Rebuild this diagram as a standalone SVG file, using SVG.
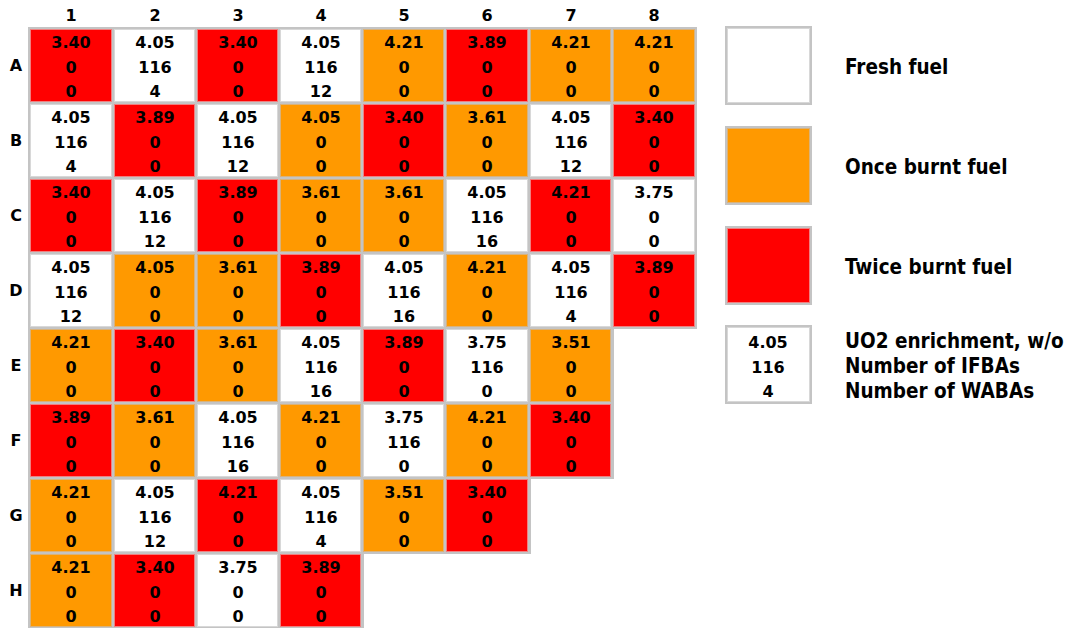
<svg xmlns="http://www.w3.org/2000/svg" width="1078" height="628" viewBox="0 0 1078 628">
<style>
.b{fill:#c4c4c4}
.W{fill:#ffffff;stroke:#d8d8d8;stroke-width:1}
.O{fill:#ff9900;stroke:#d9b27a;stroke-width:1}
.R{fill:#ff0000;stroke:#f08080;stroke-width:1}
text{font-family:"DejaVu Sans",Verdana,sans-serif;font-weight:bold;font-size:16px;fill:#000;text-anchor:middle}
.lg{font-family:"DejaVu Sans Condensed","Liberation Sans",sans-serif;font-size:20.5px;text-anchor:start;font-stretch:condensed}
</style>
<rect width="1078" height="628" fill="#fff"/>
<g id="headers">
<text x="71" y="21">1</text><text x="155" y="21">2</text><text x="238" y="21">3</text><text x="321" y="21">4</text><text x="404" y="21">5</text><text x="487" y="21">6</text><text x="571" y="21">7</text><text x="654" y="21">8</text>
<text x="16" y="71">A</text><text x="16" y="146">B</text><text x="16" y="221">C</text><text x="16" y="296">D</text><text x="16" y="371">E</text><text x="16" y="446">F</text><text x="16" y="521">G</text><text x="16" y="596">H</text>
</g>
<g id="grid">
<g id="A1"><rect class="b" x="28" y="27" width="86" height="77"/><rect class="R" x="30.5" y="29.5" width="81" height="72"/><text x="71" y="48">3.40</text><text x="71" y="73">0</text><text x="71" y="97">0</text></g>
<g id="A2"><rect class="b" x="112" y="27" width="86" height="77"/><rect class="W" x="114.5" y="29.5" width="80" height="72"/><text x="155" y="48">4.05</text><text x="155" y="73">116</text><text x="155" y="97">4</text></g>
<g id="A3"><rect class="b" x="195" y="27" width="86" height="77"/><rect class="R" x="197.5" y="29.5" width="80" height="72"/><text x="238" y="48">3.40</text><text x="238" y="73">0</text><text x="238" y="97">0</text></g>
<g id="A4"><rect class="b" x="278" y="27" width="86" height="77"/><rect class="W" x="280.5" y="29.5" width="80" height="72"/><text x="321" y="48">4.05</text><text x="321" y="73">116</text><text x="321" y="97">12</text></g>
<g id="A5"><rect class="b" x="361" y="27" width="86" height="77"/><rect class="O" x="363.5" y="29.5" width="80" height="72"/><text x="404" y="48">4.21</text><text x="404" y="73">0</text><text x="404" y="97">0</text></g>
<g id="A6"><rect class="b" x="444" y="27" width="87" height="77"/><rect class="R" x="446.5" y="29.5" width="81" height="72"/><text x="487" y="48">3.89</text><text x="487" y="73">0</text><text x="487" y="97">0</text></g>
<g id="A7"><rect class="b" x="528" y="27" width="86" height="77"/><rect class="O" x="530.5" y="29.5" width="80" height="72"/><text x="571" y="48">4.21</text><text x="571" y="73">0</text><text x="571" y="97">0</text></g>
<g id="A8"><rect class="b" x="611" y="27" width="86" height="77"/><rect class="O" x="613.5" y="29.5" width="81" height="72"/><text x="654" y="48">4.21</text><text x="654" y="73">0</text><text x="654" y="97">0</text></g>

<g id="B1"><rect class="b" x="28" y="102" width="86" height="77"/><rect class="W" x="30.5" y="104.5" width="81" height="72"/><text x="71" y="123">4.05</text><text x="71" y="148">116</text><text x="71" y="172">4</text></g>
<g id="B2"><rect class="b" x="112" y="102" width="86" height="77"/><rect class="R" x="114.5" y="104.5" width="80" height="72"/><text x="155" y="123">3.89</text><text x="155" y="148">0</text><text x="155" y="172">0</text></g>
<g id="B3"><rect class="b" x="195" y="102" width="86" height="77"/><rect class="W" x="197.5" y="104.5" width="80" height="72"/><text x="238" y="123">4.05</text><text x="238" y="148">116</text><text x="238" y="172">12</text></g>
<g id="B4"><rect class="b" x="278" y="102" width="86" height="77"/><rect class="O" x="280.5" y="104.5" width="80" height="72"/><text x="321" y="123">4.05</text><text x="321" y="148">0</text><text x="321" y="172">0</text></g>
<g id="B5"><rect class="b" x="361" y="102" width="86" height="77"/><rect class="R" x="363.5" y="104.5" width="80" height="72"/><text x="404" y="123">3.40</text><text x="404" y="148">0</text><text x="404" y="172">0</text></g>
<g id="B6"><rect class="b" x="444" y="102" width="87" height="77"/><rect class="O" x="446.5" y="104.5" width="81" height="72"/><text x="487" y="123">3.61</text><text x="487" y="148">0</text><text x="487" y="172">0</text></g>
<g id="B7"><rect class="b" x="528" y="102" width="86" height="77"/><rect class="W" x="530.5" y="104.5" width="80" height="72"/><text x="571" y="123">4.05</text><text x="571" y="148">116</text><text x="571" y="172">12</text></g>
<g id="B8"><rect class="b" x="611" y="102" width="86" height="77"/><rect class="R" x="613.5" y="104.5" width="81" height="72"/><text x="654" y="123">3.40</text><text x="654" y="148">0</text><text x="654" y="172">0</text></g>

<g id="C1"><rect class="b" x="28" y="177" width="86" height="77"/><rect class="R" x="30.5" y="179.5" width="81" height="72"/><text x="71" y="198">3.40</text><text x="71" y="223">0</text><text x="71" y="247">0</text></g>
<g id="C2"><rect class="b" x="112" y="177" width="86" height="77"/><rect class="W" x="114.5" y="179.5" width="80" height="72"/><text x="155" y="198">4.05</text><text x="155" y="223">116</text><text x="155" y="247">12</text></g>
<g id="C3"><rect class="b" x="195" y="177" width="86" height="77"/><rect class="R" x="197.5" y="179.5" width="80" height="72"/><text x="238" y="198">3.89</text><text x="238" y="223">0</text><text x="238" y="247">0</text></g>
<g id="C4"><rect class="b" x="278" y="177" width="86" height="77"/><rect class="O" x="280.5" y="179.5" width="80" height="72"/><text x="321" y="198">3.61</text><text x="321" y="223">0</text><text x="321" y="247">0</text></g>
<g id="C5"><rect class="b" x="361" y="177" width="86" height="77"/><rect class="O" x="363.5" y="179.5" width="80" height="72"/><text x="404" y="198">3.61</text><text x="404" y="223">0</text><text x="404" y="247">0</text></g>
<g id="C6"><rect class="b" x="444" y="177" width="87" height="77"/><rect class="W" x="446.5" y="179.5" width="81" height="72"/><text x="487" y="198">4.05</text><text x="487" y="223">116</text><text x="487" y="247">16</text></g>
<g id="C7"><rect class="b" x="528" y="177" width="86" height="77"/><rect class="R" x="530.5" y="179.5" width="80" height="72"/><text x="571" y="198">4.21</text><text x="571" y="223">0</text><text x="571" y="247">0</text></g>
<g id="C8"><rect class="b" x="611" y="177" width="86" height="77"/><rect class="W" x="613.5" y="179.5" width="81" height="72"/><text x="654" y="198">3.75</text><text x="654" y="223">0</text><text x="654" y="247">0</text></g>

<g id="D1"><rect class="b" x="28" y="252" width="86" height="77"/><rect class="W" x="30.5" y="254.5" width="81" height="72"/><text x="71" y="273">4.05</text><text x="71" y="298">116</text><text x="71" y="322">12</text></g>
<g id="D2"><rect class="b" x="112" y="252" width="86" height="77"/><rect class="O" x="114.5" y="254.5" width="80" height="72"/><text x="155" y="273">4.05</text><text x="155" y="298">0</text><text x="155" y="322">0</text></g>
<g id="D3"><rect class="b" x="195" y="252" width="86" height="77"/><rect class="O" x="197.5" y="254.5" width="80" height="72"/><text x="238" y="273">3.61</text><text x="238" y="298">0</text><text x="238" y="322">0</text></g>
<g id="D4"><rect class="b" x="278" y="252" width="86" height="77"/><rect class="R" x="280.5" y="254.5" width="80" height="72"/><text x="321" y="273">3.89</text><text x="321" y="298">0</text><text x="321" y="322">0</text></g>
<g id="D5"><rect class="b" x="361" y="252" width="86" height="77"/><rect class="W" x="363.5" y="254.5" width="80" height="72"/><text x="404" y="273">4.05</text><text x="404" y="298">116</text><text x="404" y="322">16</text></g>
<g id="D6"><rect class="b" x="444" y="252" width="87" height="77"/><rect class="O" x="446.5" y="254.5" width="81" height="72"/><text x="487" y="273">4.21</text><text x="487" y="298">0</text><text x="487" y="322">0</text></g>
<g id="D7"><rect class="b" x="528" y="252" width="86" height="77"/><rect class="W" x="530.5" y="254.5" width="80" height="72"/><text x="571" y="273">4.05</text><text x="571" y="298">116</text><text x="571" y="322">4</text></g>
<g id="D8"><rect class="b" x="611" y="252" width="86" height="77"/><rect class="R" x="613.5" y="254.5" width="81" height="72"/><text x="654" y="273">3.89</text><text x="654" y="298">0</text><text x="654" y="322">0</text></g>

<g id="E1"><rect class="b" x="28" y="327" width="86" height="77"/><rect class="O" x="30.5" y="329.5" width="81" height="72"/><text x="71" y="348">4.21</text><text x="71" y="373">0</text><text x="71" y="397">0</text></g>
<g id="E2"><rect class="b" x="112" y="327" width="86" height="77"/><rect class="R" x="114.5" y="329.5" width="80" height="72"/><text x="155" y="348">3.40</text><text x="155" y="373">0</text><text x="155" y="397">0</text></g>
<g id="E3"><rect class="b" x="195" y="327" width="86" height="77"/><rect class="O" x="197.5" y="329.5" width="80" height="72"/><text x="238" y="348">3.61</text><text x="238" y="373">0</text><text x="238" y="397">0</text></g>
<g id="E4"><rect class="b" x="278" y="327" width="86" height="77"/><rect class="W" x="280.5" y="329.5" width="80" height="72"/><text x="321" y="348">4.05</text><text x="321" y="373">116</text><text x="321" y="397">16</text></g>
<g id="E5"><rect class="b" x="361" y="327" width="86" height="77"/><rect class="R" x="363.5" y="329.5" width="80" height="72"/><text x="404" y="348">3.89</text><text x="404" y="373">0</text><text x="404" y="397">0</text></g>
<g id="E6"><rect class="b" x="444" y="327" width="87" height="77"/><rect class="W" x="446.5" y="329.5" width="81" height="72"/><text x="487" y="348">3.75</text><text x="487" y="373">116</text><text x="487" y="397">0</text></g>
<g id="E7"><rect class="b" x="528" y="327" width="86" height="77"/><rect class="O" x="530.5" y="329.5" width="80" height="72"/><text x="571" y="348">3.51</text><text x="571" y="373">0</text><text x="571" y="397">0</text></g>

<g id="F1"><rect class="b" x="28" y="402" width="86" height="77"/><rect class="R" x="30.5" y="404.5" width="81" height="72"/><text x="71" y="423">3.89</text><text x="71" y="448">0</text><text x="71" y="472">0</text></g>
<g id="F2"><rect class="b" x="112" y="402" width="86" height="77"/><rect class="O" x="114.5" y="404.5" width="80" height="72"/><text x="155" y="423">3.61</text><text x="155" y="448">0</text><text x="155" y="472">0</text></g>
<g id="F3"><rect class="b" x="195" y="402" width="86" height="77"/><rect class="W" x="197.5" y="404.5" width="80" height="72"/><text x="238" y="423">4.05</text><text x="238" y="448">116</text><text x="238" y="472">16</text></g>
<g id="F4"><rect class="b" x="278" y="402" width="86" height="77"/><rect class="O" x="280.5" y="404.5" width="80" height="72"/><text x="321" y="423">4.21</text><text x="321" y="448">0</text><text x="321" y="472">0</text></g>
<g id="F5"><rect class="b" x="361" y="402" width="86" height="77"/><rect class="W" x="363.5" y="404.5" width="80" height="72"/><text x="404" y="423">3.75</text><text x="404" y="448">116</text><text x="404" y="472">0</text></g>
<g id="F6"><rect class="b" x="444" y="402" width="87" height="77"/><rect class="O" x="446.5" y="404.5" width="81" height="72"/><text x="487" y="423">4.21</text><text x="487" y="448">0</text><text x="487" y="472">0</text></g>
<g id="F7"><rect class="b" x="528" y="402" width="86" height="77"/><rect class="R" x="530.5" y="404.5" width="80" height="72"/><text x="571" y="423">3.40</text><text x="571" y="448">0</text><text x="571" y="472">0</text></g>

<g id="G1"><rect class="b" x="28" y="477" width="86" height="77"/><rect class="O" x="30.5" y="479.5" width="81" height="72"/><text x="71" y="498">4.21</text><text x="71" y="523">0</text><text x="71" y="547">0</text></g>
<g id="G2"><rect class="b" x="112" y="477" width="86" height="77"/><rect class="W" x="114.5" y="479.5" width="80" height="72"/><text x="155" y="498">4.05</text><text x="155" y="523">116</text><text x="155" y="547">12</text></g>
<g id="G3"><rect class="b" x="195" y="477" width="86" height="77"/><rect class="R" x="197.5" y="479.5" width="80" height="72"/><text x="238" y="498">4.21</text><text x="238" y="523">0</text><text x="238" y="547">0</text></g>
<g id="G4"><rect class="b" x="278" y="477" width="86" height="77"/><rect class="W" x="280.5" y="479.5" width="80" height="72"/><text x="321" y="498">4.05</text><text x="321" y="523">116</text><text x="321" y="547">4</text></g>
<g id="G5"><rect class="b" x="361" y="477" width="86" height="77"/><rect class="O" x="363.5" y="479.5" width="80" height="72"/><text x="404" y="498">3.51</text><text x="404" y="523">0</text><text x="404" y="547">0</text></g>
<g id="G6"><rect class="b" x="444" y="477" width="87" height="77"/><rect class="R" x="446.5" y="479.5" width="81" height="72"/><text x="487" y="498">3.40</text><text x="487" y="523">0</text><text x="487" y="547">0</text></g>

<g id="H1"><rect class="b" x="28" y="552" width="86" height="76"/><rect class="O" x="30.5" y="554.5" width="81" height="72"/><text x="71" y="573">4.21</text><text x="71" y="598">0</text><text x="71" y="622">0</text></g>
<g id="H2"><rect class="b" x="112" y="552" width="86" height="76"/><rect class="R" x="114.5" y="554.5" width="80" height="72"/><text x="155" y="573">3.40</text><text x="155" y="598">0</text><text x="155" y="622">0</text></g>
<g id="H3"><rect class="b" x="195" y="552" width="86" height="76"/><rect class="W" x="197.5" y="554.5" width="80" height="72"/><text x="238" y="573">3.75</text><text x="238" y="598">0</text><text x="238" y="622">0</text></g>
<g id="H4"><rect class="b" x="278" y="552" width="86" height="76"/><rect class="R" x="280.5" y="554.5" width="80" height="72"/><text x="321" y="573">3.89</text><text x="321" y="598">0</text><text x="321" y="622">0</text></g>
</g>
<g id="legend">
<g id="leg-fresh"><rect class="b" x="725" y="26" width="87" height="79"/><rect class="W" x="727.5" y="28.5" width="82" height="74"/><text class="lg" x="845" y="74">Fresh fuel</text></g>
<g id="leg-once"><rect class="b" x="725" y="126" width="87" height="79"/><rect class="O" x="727.5" y="128.5" width="82" height="74"/><text class="lg" x="845" y="174">Once burnt fuel</text></g>
<g id="leg-twice"><rect class="b" x="725" y="226" width="87" height="79"/><rect class="R" x="727.5" y="228.5" width="82" height="74"/><text class="lg" x="845" y="274">Twice burnt fuel</text></g>
<g id="leg-key"><rect class="b" x="725" y="325" width="87" height="79"/><rect class="W" x="727.5" y="327.5" width="82" height="74"/><text x="768" y="348">4.05</text><text x="768" y="373">116</text><text x="768" y="397">4</text>
<text class="lg" x="845" y="348">UO2 enrichment, w/o</text><text class="lg" x="845" y="373">Number of IFBAs</text><text class="lg" x="845" y="398">Number of WABAs</text></g>
</g>
</svg>
